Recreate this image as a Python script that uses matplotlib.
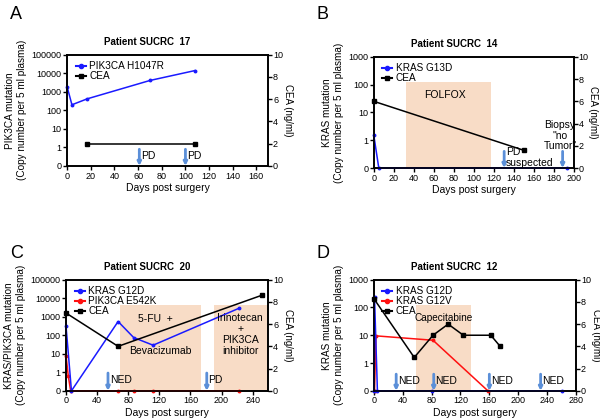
import numpy as np
import matplotlib
matplotlib.use("Agg")
import matplotlib.pyplot as plt
from matplotlib.lines import Line2D

plt.rcParams['font.family'] = ['Liberation Sans', 'DejaVu Sans']
plt.rcParams['font.size'] = 7

BLUE = "#1a1aff"
RED = "#ff1010"
SHADE = "#f8dcc6"
ARROW = "#5b8fd8"

# --- panel A: patient SUCRC 17
a_days = [0, 4, 17, 70, 108]
a_pik3ca = [1800, 200, 420, 4100, 14000]
a_cea_days = [17, 108]
a_cea = [2, 2]
a_events = [61, 100]
a_event_labels = ["PD", "PD"]

# --- panel B: patient SUCRC 14
b_days = [0, 5, 193]
b_kras = [1.5, 0, 0]
b_cea_days = [0, 150]
b_cea = [6.0, 1.6]
b_events = [130.5, 189]

# --- panel C: patient SUCRC 20
c_kras_days = [0, 7, 67, 87, 112, 222]
c_kras = [320, 0, 550, 75, 29, 2800]
c_pik_days = [0, 3, 6, 67, 87, 112, 222]
c_pik = [8, 0.6, 0, 0, 0, 0, 0]
c_cea_days = [0, 67, 252]
c_cea = [7.0, 4.0, 8.6]
c_events = [54, 181]

# --- panel D: patient SUCRC 12
d_g12d_days = [0, 1, 5, 80, 260]
d_g12d = [0, 230, 0, 0, 0]
d_g12v_days = [1, 3, 82, 158]
d_g12v = [0, 9.5, 6.6, 0]
d_cea_days = [0, 56, 82, 103, 124, 162, 175]
d_cea = [8.3, 3.0, 5.0, 6.0, 5.0, 5.0, 4.0]
d_events = [31, 83, 160, 231]


def z(v):
    # value 0 is drawn on the bottom of the log axis
    return np.where(np.asarray(v, float) == 0, 0.1, v)


def setup(fig, rect, xmax, xstep, ytop, ylabel, title, letter, letter_pos):
    ax = fig.add_axes(rect)
    ax.set_yscale("log")
    ax.set_ylim(0.1, ytop)
    ax.set_xlim(0, xmax)
    ticks = [10.0 ** k for k in range(-1, int(np.log10(ytop)) + 1)]
    labels = ["0"] + [f"{int(t)}" for t in ticks[1:]]
    ax.set_yticks(ticks)
    ax.set_yticklabels(labels)
    ax.minorticks_off()
    ax.set_xticks(np.arange(0, xmax + 1, xstep))
    ax.set_xlabel("Days post surgery", fontsize=7.5, labelpad=2)
    ax.set_ylabel(ylabel, fontsize=7.2, labelpad=3, linespacing=1.25)
    ax.tick_params(labelsize=6.5, length=3, width=1, pad=1)
    for s in ax.spines.values():
        s.set_linewidth(1.2)
    ax.text(0.4, 1.07, title, transform=ax.transAxes, ha="center",
            va="bottom", fontsize=7, fontweight="bold")
    fig.text(letter_pos[0], letter_pos[1], letter, fontsize=13, va="top")

    ax2 = ax.twinx()
    ax2.set_ylim(0, 10)
    ax2.set_yticks([0, 2, 4, 6, 8, 10])
    ax2.set_ylabel("CEA (ng/ml)", rotation=270, fontsize=7, labelpad=7)
    ax2.tick_params(labelsize=6.5, length=3, width=1, pad=0.5)
    for s in ax2.spines.values():
        s.set_linewidth(1.2)
    return ax, ax2


def shade(ax, x0, x1, top=0.77):
    ax.axvspan(x0, x1, ymin=0, ymax=top, color=SHADE, zorder=0, lw=0)


def event(ax2, x, label, y_text=0.9, h=1.5):
    ax2.annotate("", xy=(x, 0), xytext=(x, h),
                 arrowprops=dict(arrowstyle="-|>", color=ARROW, lw=2,
                                 mutation_scale=5, shrinkA=0, shrinkB=0))
    if label:
        ax2.text(x + 1.5 * ax2.get_xlim()[1] / 170, y_text, label,
                 ha="left", va="center", fontsize=7.5)


def mut_line(ax, x, y, color):
    ax.plot(x, z(y), color=color, lw=1.1, marker="o", ms=1.8,
            clip_on=False, zorder=3)


def cea_line(ax2, x, y):
    ax2.plot(x, y, color="black", lw=1.1, marker="s", ms=3,
             clip_on=False, zorder=3)


def legend(ax2, entries):
    handles = [Line2D([], [], color=c, marker=m, ms=3, lw=1.5)
               for c, m, _ in entries]
    ax2.legend(handles, [l for _, _, l in entries], loc="upper left",
               frameon=False, fontsize=7.2, handlelength=1.0,
               handletextpad=0.35, labelspacing=0.0, borderaxespad=0.25,
               bbox_to_anchor=(0.01, 1.0))


fig = plt.figure(figsize=(6, 4.18), dpi=100)

# A
ax, ax2 = setup(fig, [0.112, 0.603, 0.335, 0.266], 170, 20, 100000,
                "PIK3CA mutation\n(Copy number per 5 ml plasma)",
                "Patient SUCRC  17", "A", (0.017, 0.985))
mut_line(ax, a_days, a_pik3ca, BLUE)
cea_line(ax2, a_cea_days, a_cea)
for x, l in zip(a_events, a_event_labels):
    event(ax2, x, l)
legend(ax2, [(BLUE, "o", "PIK3CA H1047R"), ("black", "s", "CEA")])

# B
ax, ax2 = setup(fig, [0.623, 0.598, 0.333, 0.266], 200, 20, 1000,
                "KRAS mutation\n(Copy number per 5 ml plasma)",
                "Patient SUCRC  14", "B", (0.527, 0.985))
shade(ax, 32, 117)
ax.text(71, 43, "FOLFOX", ha="center", va="center", fontsize=7.5)
mut_line(ax, b_days, b_kras, BLUE)
cea_line(ax2, b_cea_days, b_cea)
event(ax2, b_events[0], "PD\nsuspected", y_text=0.95)
event(ax2, b_events[1], "")
ax2.text(186.5, 2.9, "Biopsy\n\"no\nTumor\"", ha="center", va="center",
         fontsize=7.5, linespacing=1.05)
legend(ax2, [(BLUE, "o", "KRAS G13D"), ("black", "s", "CEA")])

# C
ax, ax2 = setup(fig, [0.11, 0.065, 0.337, 0.266], 260, 40, 100000,
                "KRAS/PIK3CA mutation\n(Copy number per 5 ml plasma)",
                "Patient SUCRC  20", "C", (0.017, 0.415))
shade(ax, 69.5, 173)
shade(ax, 190, 260)
ax2.text(115, 6.5, "5-FU  +", ha="center", va="center", fontsize=7.5)
ax2.text(121, 3.6, "Bevacizumab", ha="center", va="center", fontsize=7.5)
ax2.text(224, 5.05, "Irinotecan\n+\nPIK3CA\ninhibitor", ha="center",
         va="center", fontsize=7.5, linespacing=1.1)
mut_line(ax, c_pik_days, c_pik, RED)
mut_line(ax, c_kras_days, c_kras, BLUE)
cea_line(ax2, c_cea_days, c_cea)
event(ax2, c_events[0], "NED", y_text=1.0, h=1.6)
event(ax2, c_events[1], "PD", y_text=1.0, h=1.6)
legend(ax2, [(BLUE, "o", "KRAS G12D"), (RED, "o", "PIK3CA E542K"),
             ("black", "s", "CEA")])

# D
ax, ax2 = setup(fig, [0.623, 0.065, 0.337, 0.266], 280, 40, 1000,
                "KRAS mutation\n(Copy number per 5 ml plasma)",
                "Patient SUCRC  12", "D", (0.527, 0.415))
shade(ax, 58, 135)
ax2.text(97, 6.55, "Capecitabine", ha="center", va="center", fontsize=7.2)
mut_line(ax, d_g12v_days, d_g12v, RED)
mut_line(ax, d_g12d_days, d_g12d, BLUE)
cea_line(ax2, d_cea_days, d_cea)
for x in d_events:
    event(ax2, x, "NED", y_text=0.85)
legend(ax2, [(BLUE, "o", "KRAS G12D"), (RED, "o", "KRAS G12V"),
             ("black", "s", "CEA")])

fig.savefig("out.png", dpi=100)
